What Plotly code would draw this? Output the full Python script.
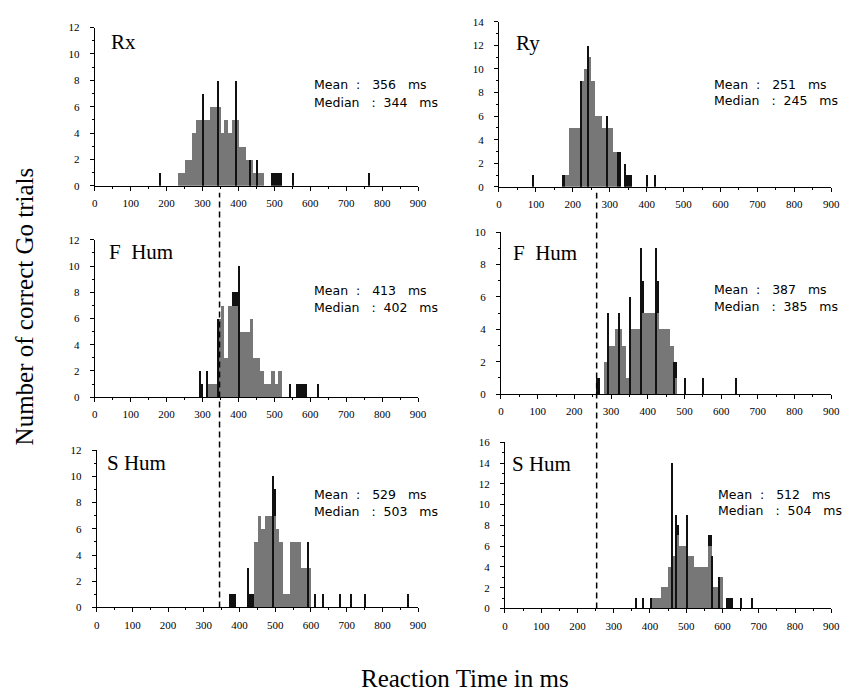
import plotly.graph_objects as go

# ---------------- data (10 ms bins; counts of correct Go trials) ----------------
BIN = 10
SPIKE_W = 3.5

rx_t     = [180, 230, 240, 250, 260, 270, 280, 290, 300, 310, 320, 330, 340, 350, 360, 370, 380, 390, 400, 410, 420, 430, 440, 450, 460, 490, 500, 510, 550, 760]
rx_gray  = [0, 1, 1, 2, 2, 4, 5, 5, 5, 5, 6, 6, 6, 4, 5, 4, 5, 5, 3, 3, 2, 2, 1, 1, 1, 0, 0, 0, 0, 0]
rx_dark  = [0, 0, 0, 0, 0, 0, 0, 0, 0, 0, 0, 0, 0, 0, 0, 0, 0, 0, 0, 0, 0, 0, 0, 0, 0, 1, 1, 1, 0, 0]
rx_spike = [1, 0, 0, 0, 0, 0, 0, 0, 7, 0, 0, 0, 8, 0, 0, 0, 0, 8, 0, 0, 0, 2, 0, 2, 0, 0, 0, 0, 1, 1]

ry_t     = [90, 170, 180, 190, 200, 210, 220, 230, 240, 250, 260, 270, 280, 290, 300, 310, 320, 340, 350, 400, 420]
ry_gray  = [0, 0, 1, 5, 5, 5, 9, 10, 11, 9, 6, 6, 5, 5, 5, 3, 0, 0, 0, 0, 0]
ry_dark  = [0, 1, 0, 0, 0, 0, 0, 0, 0, 0, 0, 0, 0, 0, 0, 0, 3, 1, 1, 0, 0]
ry_spike = [1, 0, 0, 0, 0, 0, 9, 0, 12, 0, 0, 0, 0, 6, 0, 0, 0, 2, 0, 1, 1]

fl_t     = [290, 310, 320, 330, 340, 350, 360, 370, 380, 390, 400, 410, 420, 430, 440, 450, 460, 470, 480, 490, 500, 510, 540, 560, 570, 580, 620]
fl_gray  = [0, 1, 1, 1, 6, 7, 3, 7, 7, 7, 5, 5, 5, 6, 3, 3, 2, 1, 1, 2, 1, 2, 0, 0, 0, 0, 0]
fl_dark  = [1, 0, 0, 0, 0, 0, 0, 0, 1, 1, 0, 0, 0, 0, 0, 0, 0, 0, 0, 0, 0, 0, 0, 1, 1, 1, 0]
fl_spike = [2, 2, 0, 0, 6, 0, 0, 0, 0, 0, 10, 0, 0, 0, 0, 0, 0, 0, 0, 0, 0, 0, 1, 0, 0, 0, 1]

fr_t     = [260, 280, 290, 300, 310, 320, 330, 340, 350, 360, 370, 380, 390, 400, 410, 420, 430, 440, 450, 460, 470, 500, 550, 640]
fr_gray  = [0, 2, 3, 3, 4, 4, 3, 1, 4, 4, 4, 5, 5, 5, 5, 5, 4, 4, 4, 3, 1, 0, 0, 0]
fr_dark  = [1, 0, 0, 0, 0, 0, 0, 0, 0, 0, 0, 2, 0, 0, 0, 2, 0, 0, 0, 0, 1, 0, 0, 0]
fr_spike = [0, 0, 5, 0, 0, 5, 0, 0, 6, 0, 0, 9, 0, 0, 0, 9, 0, 0, 0, 0, 2, 1, 1, 1]

sl_t     = [370, 380, 420, 430, 440, 450, 460, 470, 480, 490, 500, 510, 520, 530, 540, 550, 560, 570, 580, 590, 610, 630, 680, 710, 750, 870]
sl_gray  = [0, 0, 0, 0, 5, 7, 6, 7, 7, 7, 6, 5, 1, 1, 5, 5, 5, 3, 3, 3, 0, 0, 0, 0, 0, 0]
sl_dark  = [1, 1, 1, 1, 0, 0, 0, 0, 0, 2, 0, 0, 0, 0, 0, 0, 0, 0, 0, 0, 0, 0, 0, 0, 0, 0]
sl_spike = [0, 0, 3, 0, 0, 0, 0, 0, 0, 10, 0, 0, 0, 0, 0, 0, 0, 0, 0, 5, 1, 1, 1, 1, 1, 1]

sr_t     = [360, 380, 400, 410, 420, 430, 440, 450, 460, 470, 480, 490, 500, 510, 520, 530, 540, 550, 560, 570, 580, 590, 610, 620, 650, 680]
sr_gray  = [0, 0, 1, 1, 1, 2, 2, 4, 5, 7, 6, 6, 5, 5, 4, 4, 4, 4, 6, 2, 2, 3, 0, 0, 0, 0]
sr_dark  = [0, 0, 0, 0, 0, 0, 0, 0, 0, 1, 0, 0, 0, 0, 0, 0, 0, 0, 1, 0, 0, 0, 1, 1, 0, 0]
sr_spike = [1, 1, 1, 0, 0, 0, 0, 0, 14, 9, 0, 0, 9, 0, 0, 0, 0, 0, 0, 5, 0, 3, 0, 0, 1, 1]

labels   = ["Rx", "Ry", "F\u00a0\u00a0Hum", "F\u00a0\u00a0Hum", "S\u00a0Hum", "S\u00a0Hum"]
means    = [356, 251, 413, 387, 529, 512]
medians  = [344, 245, 402, 385, 503, 504]
y_max    = [12, 14, 12, 10, 12, 16]
x_ticks  = [0, 100, 200, 300, 400, 500, 600, 700, 800, 900]
dash_left, dash_right = 344, 253

# ---------------- layout geometry (pixels) ----------------
W, H = 860, 696
GRAY = "#777777"
FONT_SERIF = "Liberation Serif"

# x0px, x1px, y_zero_px, y_top_px, label (x,y), stats (x, y_mean, y_median)
geom = [
    (93, 421, 183, 22, (108, 37), (313, 80, 98)),
    (503, 840, 184, 16, (518, 38), (719, 80, 96)),
    (93, 421, 398, 238, (105, 250), (313, 289, 307)),
    (505, 840, 395, 230, (515, 251), (719, 288, 306)),
    (95, 421, 612, 452, (103, 465), (313, 497, 514)),
    (509, 840, 613, 444, (514, 466), (723, 497, 513)),
]

series = [
    (rx_t, rx_gray, rx_dark, rx_spike),
    (ry_t, ry_gray, ry_dark, ry_spike),
    (fl_t, fl_gray, fl_dark, fl_spike),
    (fr_t, fr_gray, fr_dark, fr_spike),
    (sl_t, sl_gray, sl_dark, sl_spike),
    (sr_t, sr_gray, sr_dark, sr_spike),
]


def px(xp):
    return xp / W


def py(yp):
    return 1 - yp / H


fig = go.Figure()
annotations = []
layout_axes = {}
NB = "\u00a0"

for i, ((t, g, d, s), (x0, x1, yz, yt, lab, st)) in enumerate(zip(series, geom)):
    n = i + 1
    xa = "x" if n == 1 else f"x{n}"
    ya = "y" if n == 1 else f"y{n}"
    centers = [v + BIN / 2 for v in t]
    fig.add_trace(go.Bar(x=centers, y=g, width=BIN, marker=dict(color=GRAY, line=dict(width=0)),
                         xaxis=xa, yaxis=ya, hoverinfo="skip"))
    dk_x = [c for c, v in zip(centers, d) if v > 0]
    dk_y = [v for v in d if v > 0]
    dk_b = [gg for gg, v in zip(g, d) if v > 0]
    fig.add_trace(go.Bar(x=dk_x, y=dk_y, base=dk_b, width=BIN, marker=dict(color="#111111", line=dict(width=0)),
                         xaxis=xa, yaxis=ya, hoverinfo="skip"))
    sp_x = [v + SPIKE_W / 2 for v, h in zip(t, s) if h > 0]
    sp_y = [h for h in s if h > 0]
    fig.add_trace(go.Bar(x=sp_x, y=sp_y, width=SPIKE_W, marker=dict(color="#111111", line=dict(width=0)),
                         xaxis=xa, yaxis=ya, hoverinfo="skip"))

    axis_common = dict(showgrid=False, zeroline=False, showline=True, linecolor="black", linewidth=1,
                       ticks="outside", ticklen=4, tickcolor="black", tickwidth=1,
                       tickfont=dict(family=FONT_SERIF, size=11, color="black"))
    layout_axes["xaxis" if n == 1 else f"xaxis{n}"] = dict(
        axis_common, domain=[px(x0), px(x1)], range=[0, 900], anchor=ya,
        tickvals=x_ticks, ticktext=[str(v) for v in x_ticks], ticklabelstandoff=3,
        minor=dict(dtick=50, ticks="outside", ticklen=2, tickcolor="black"))
    yt_vals = list(range(0, y_max[i] + 1, 2))
    layout_axes["yaxis" if n == 1 else f"yaxis{n}"] = dict(
        axis_common, domain=[py(yz), py(yt)], range=[0, y_max[i]], anchor=xa,
        tickvals=yt_vals, ticktext=[str(v) for v in yt_vals], ticklabelstandoff=8,
        minor=dict(dtick=1, ticks="outside", ticklen=2, tickcolor="black"))

    annotations.append(dict(text=labels[i], x=px(lab[0]), y=py(lab[1]), xref="paper", yref="paper",
                            xanchor="left", yanchor="middle", showarrow=False,
                            font=dict(family=FONT_SERIF, size=21, color="black")))
    annotations.append(dict(text=f"Mean{NB*2}:{NB*3}{means[i]}{NB*3}ms", x=px(st[0]), y=py(st[1]),
                            xref="paper", yref="paper", xanchor="left", yanchor="middle", showarrow=False,
                            font=dict(family="DejaVu Sans", size=12.5, color="black")))
    annotations.append(dict(text=f"Median{NB*3}:{NB*2}{medians[i]}{NB*3}ms", x=px(st[0]), y=py(st[2]),
                            xref="paper", yref="paper", xanchor="left", yanchor="middle", showarrow=False,
                            font=dict(family="DejaVu Sans", size=12.5, color="black")))

annotations.append(dict(text="Number of correct Go trials", x=px(22), y=py(306), xref="paper", yref="paper",
                        xanchor="center", yanchor="middle", textangle=-90, showarrow=False,
                        font=dict(family=FONT_SERIF, size=25, color="black")))
annotations.append(dict(text="Reaction Time in ms", x=px(469), y=py(684), xref="paper", yref="paper",
                        xanchor="center", yanchor="middle", showarrow=False,
                        font=dict(family=FONT_SERIF, size=25, color="black")))

shapes = [
    dict(type="line", xref="x5", yref="paper", x0=dash_left, x1=dash_left, y0=py(612), y1=py(190),
         line=dict(color="black", width=1.5, dash="6px,4px")),
    dict(type="line", xref="x6", yref="paper", x0=dash_right, x1=dash_right, y0=py(613), y1=py(190),
         line=dict(color="black", width=1.5, dash="6px,4px")),
]

fig.update_layout(width=W, height=H, margin=dict(l=0, r=0, t=0, b=0), autosize=False,
                  plot_bgcolor="white", paper_bgcolor="white", showlegend=False,
                  barmode="overlay", bargap=0, annotations=annotations, shapes=shapes, **layout_axes)

fig.write_html("out.html", config={"displayModeBar": False},
               post_script="document.body.style.margin='0';document.body.style.padding='0';")
